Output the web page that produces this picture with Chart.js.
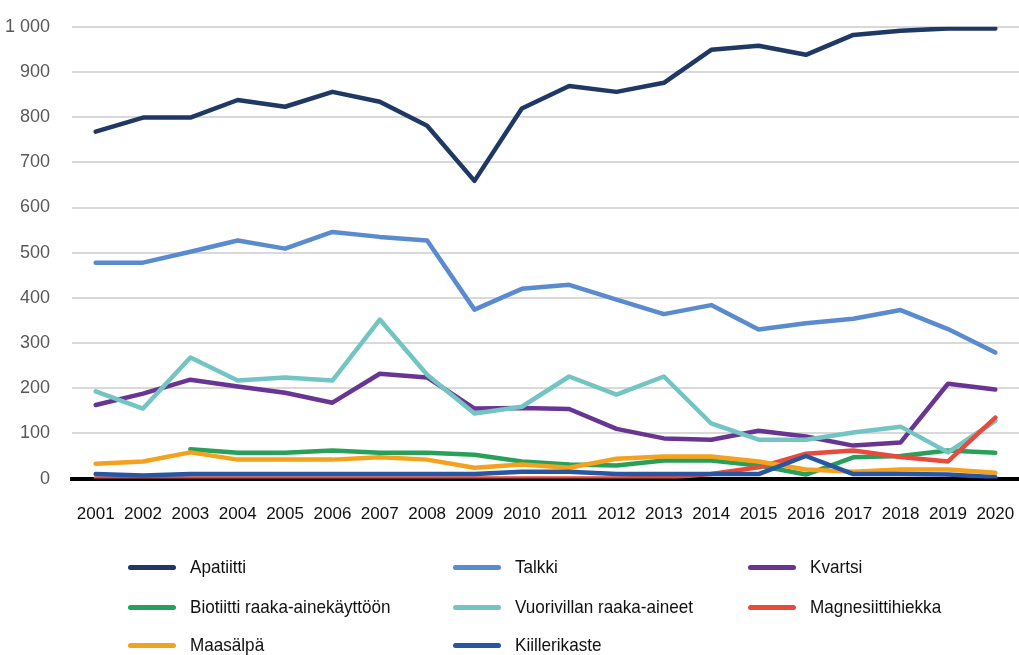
<!DOCTYPE html>
<html>
<head>
<meta charset="utf-8">
<script src="https://cdn.jsdelivr.net/npm/chart.js@4"></script>
<style>
  body { margin: 0; background: #fff; font-family: "Liberation Sans", sans-serif; }
  #wrap { position: relative; width: 1019px; height: 655px; overflow: hidden; }
  #chartBox { position: absolute; left: 0; top: -6px; width: 1019px; height: 531px; }
  #legend { position: absolute; left: 0; top: 0; width: 1019px; height: 655px; pointer-events: none; }
  .item { position: absolute; display: flex; align-items: center; height: 24px; color: #111; }
  .item .swatch { width: 48px; height: 5px; border-radius: 3px; margin-right: 14px; flex: none; }
  .item .txt { font-size: 19px; display: inline-block; transform: scaleX(0.9); transform-origin: left center; white-space: nowrap; }
</style>
</head>
<body>
<div id="wrap">
  <div id="chartBox"><canvas id="chart"></canvas></div>
  <div id="legend"></div>
</div>
<script>
  const years = ['2001','2002','2003','2004','2005','2006','2007','2008','2009','2010',
                 '2011','2012','2013','2014','2015','2016','2017','2018','2019','2020'];

  const apatiitti = [768, 799, 799, 838, 823, 856, 834, 781, 659, 819, 869, 856, 876, 949, 958, 938, 982, 991, 996, 996];
  const talkki    = [478, 478, 502, 527, 509, 546, 535, 527, 374, 420, 429, 396, 364, 384, 330, 344, 354, 373, 331, 279];
  const kvartsi   = [163, 188, 219, 204, 190, 168, 232, 224, 155, 156, 154, 110, 89, 86, 106, 93, 73, 80, 210, 197];
  const biotiitti = [null, null, 65, 57, 57, 62, 57, 57, 53, 38, 31, 29, 40, 40, 29, 9, 47, 50, 62, 57];
  const vuorivilla = [193, 155, 268, 217, 224, 217, 352, 230, 144, 159, 226, 186, 226, 122, 86, 86, 102, 115, 58, 128];
  const magnesiitti = [0, 0, 0, 0, 0, 0, 0, 0, 0, 0, 0, 0, 2, 10, 25, 55, 62, 48, 38, 135];
  const maasalpa  = [33, 38, 58, 42, 42, 42, 47, 42, 24, 31, 24, 44, 49, 49, 38, 20, 15, 20, 20, 13];
  const kiille    = [10, 7, 10, 10, 10, 10, 10, 10, 10, 15, 15, 10, 10, 10, 10, 50, 10, 10, 9, 3];

  const yTicks = [0, 100, 200, 300, 400, 500, 600, 700, 800, 900, 1000];

  const series = [
    { label: 'Apatiitti', data: apatiitti, color: '#1f3864' },
    { label: 'Talkki', data: talkki, color: '#5a8bcf' },
    { label: 'Kvartsi', data: kvartsi, color: '#683592' },
    { label: 'Biotiitti raaka-ainekäyttöön', data: biotiitti, color: '#28a05a' },
    { label: 'Vuorivillan raaka-aineet', data: vuorivilla, color: '#72c5c2' },
    { label: 'Magnesiittihiekka', data: magnesiitti, color: '#e84b3c' },
    { label: 'Maasälpä', data: maasalpa, color: '#f4a11e' },
    { label: 'Kiillerikaste', data: kiille, color: '#2856a3' }
  ];

  const fontFam = '"Liberation Sans", sans-serif';

  new Chart(document.getElementById('chart'), {
    type: 'line',
    data: {
      labels: years,
      datasets: series.map((s, i) => ({
        label: s.label,
        data: s.data,
        borderColor: s.color,
        backgroundColor: s.color,
        borderWidth: 4.5,
        pointRadius: 0,
        tension: 0,
        borderCapStyle: 'round',
        borderJoinStyle: 'round',
        order: series.length - i
      }))
    },
    options: {
      responsive: true,
      maintainAspectRatio: false,
      animation: false,
      layout: { padding: { top: 0, right: 0, left: 0, bottom: 0 } },
      plugins: { legend: { display: false }, tooltip: { enabled: false } },
      scales: {
        x: {
          offset: true,
          grid: { display: true, drawOnChartArea: false, drawTicks: true, tickLength: 26, color: 'rgba(0,0,0,0)' },
          border: { color: '#000', width: 4 },
          ticks: { color: '#111', font: { family: fontFam, size: 17 }, padding: 0, maxRotation: 0, autoSkip: false }
        },
        y: {
          min: 0,
          max: 1000,
          afterBuildTicks: axis => { axis.ticks = yTicks.map(v => ({ value: v })); },
          afterFit: axis => { axis.width = 72; },
          grid: { color: '#d9d9d9', lineWidth: 2, drawTicks: false },
          border: { display: false },
          ticks: {
            color: '#595959',
            font: { family: fontFam, size: 18 },
            padding: 22,
            callback: v => v >= 1000 ? String(v).replace(/\B(?=(\d{3})+(?!\d))/g, ' ') : v
          }
        }
      }
    }
  });

  // legend in three columns like the original
  const legendCols = [128, 453, 748];
  const legendRows = [567, 607, 645];
  const legend = document.getElementById('legend');
  series.forEach((s, i) => {
    const el = document.createElement('div');
    el.className = 'item';
    el.style.left = legendCols[i % 3] + 'px';
    el.style.top = (legendRows[Math.floor(i / 3)] - 12) + 'px';
    el.innerHTML = '<span class="swatch" style="background:' + s.color + '"></span><span class="txt">' + s.label + '</span>';
    legend.appendChild(el);
  });
</script>
</body>
</html>
